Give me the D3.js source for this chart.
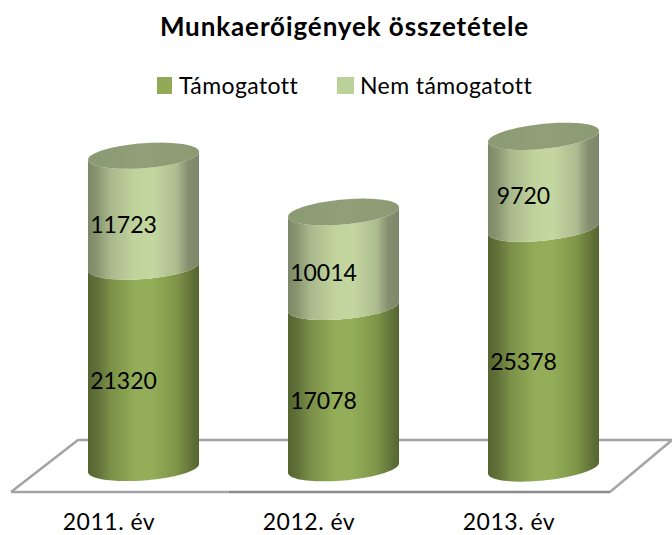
<!DOCTYPE html>
<html><head><meta charset="utf-8">
<script src="https://cdn.jsdelivr.net/npm/d3@7/dist/d3.min.js"></script>
<style>html,body{margin:0;padding:0;background:#fff;overflow:hidden}svg{display:block}text{font-family:Lato,sans-serif;fill:#000}</style>
</head><body><svg id="c" width="672" height="535"></svg>
<script>
const categories = ["2011. év","2012. év","2013. év"];
const supported = [21320,17078,25378];
const unsupported = [11723,10014,9720];
const seriesNames = ["Támogatott","Nem támogatott"];
const chartTitle = "Munkaerőigények összetétele";

const W=672,H=535,halfW=55.5,ry=12.5;
const svg=d3.select("#c").attr("viewBox",`0 0 ${W} ${H}`);
const x=d3.scalePoint().domain(categories).range([43.5,643.5]).padding(0.5);
const y=d3.scaleLinear().domain([0,35000]).range([468,137.25]);
const tilt=d3.scaleLinear().domain([143.5,543.5]).range([-4,-5.5]);

const defs=svg.append("defs");
function grad(id,stops){
  const g=defs.append("linearGradient").attr("id",id).attr("x1",0).attr("x2",1).attr("y1",0).attr("y2",0);
  stops.forEach(([o,c])=>g.append("stop").attr("offset",o).attr("stop-color",c));
}
grad("gD",[[0,"#56652f"],[.08,"#5f7038"],[.2,"#7a8f48"],[.42,"#92ac57"],[.58,"#93ad58"],[.8,"#7f9549"],[.92,"#64763a"],[1,"#566530"]]);
grad("gL",[[0,"#7c8868"],[.08,"#88956f"],[.2,"#a8b88c"],[.42,"#c1d39c"],[.58,"#c5d7a1"],[.8,"#acbc8f"],[.9,"#868f70"],[1,"#7d8769"]]);
grad("gT",[[0,"#8a9a72"],[.5,"#909f78"],[1,"#8b9a73"]]);

// floor
const floor=svg.append("g").attr("fill","none");
const ln=d3.line();
floor.append("path").attr("d",ln([[11,492],[78,440],[672,440]])).attr("stroke","#a3a3a3").attr("stroke-width",2.5);
floor.append("path").attr("d",ln([[610,492],[672,440]])).attr("stroke","#a6a6a6").attr("stroke-width",2.5);
floor.append("path").attr("d",ln([[11,492],[229,492]])).attr("stroke","#a3a3a3").attr("stroke-width",2.5);
floor.append("path").attr("d",ln([[229,492],[610,492]])).attr("stroke","#8a8a8a").attr("stroke-width",2.5);

const T=d3.range(0,1.0001,1/48);
function arcPts(cx,cy,s,rev){
  const p=T.map(t=>{const a=Math.PI*(1-t);return [cx+halfW*Math.cos(a),cy+ry*Math.sin(a)+s*Math.cos(a)];});
  return rev?p.reverse():p;
}
function backPts(cx,cy,s){
  return T.map(t=>{const a=Math.PI*t;return [cx+halfW*Math.cos(a),cy-ry*Math.sin(a)+s*Math.cos(a)];});
}
const closed=d3.line().curve(d3.curveLinearClosed);

const bars=svg.append("g").selectAll("g").data(categories).join("g");
bars.each(function(c,i){
  const g=d3.select(this),cx=x(c),s=tilt(cx);
  const y0=y(0),y1=y(supported[i]),y2=y(supported[i]+unsupported[i]);
  g.append("path").attr("d",closed([...arcPts(cx,y0,s),...arcPts(cx,y1,s,true)])).attr("fill","url(#gD)");
  g.append("path").attr("d",closed([...arcPts(cx,y1,s),...arcPts(cx,y2,s,true)])).attr("fill","url(#gL)");
  g.append("path").attr("d",closed([...arcPts(cx,y2,s),...backPts(cx,y2,s)])).attr("fill","url(#gT)");
  g.append("text").attr("x",cx-20).attr("y",(y0+y1)/2+22).attr("text-anchor","middle")
    .attr("font-size",23).text(supported[i]);
  g.append("text").attr("x",cx-20).attr("y",(y1+y2)/2+22).attr("text-anchor","middle")
    .attr("font-size",23).text(unsupported[i]);
});

// category axis
const axis=svg.append("g").attr("transform","translate(-35,513)").call(d3.axisBottom(x).tickSize(0).tickPadding(0));
axis.select(".domain").remove();
axis.selectAll("text").attr("font-size",23).attr("letter-spacing",.5).attr("font-family","Lato,sans-serif").attr("fill","#000").attr("dy",0).attr("y",17);

// title
svg.append("text").attr("x",344.5).attr("y",36).attr("text-anchor","middle")
  .attr("font-size",26).attr("letter-spacing",.9).attr("font-weight",700).text(chartTitle);

// legend
const legend=svg.append("g");
const lx=[157,337],tx=[179,360],lc=["#92a957","#bcd09a"];
seriesNames.forEach((n,i)=>{
  legend.append("rect").attr("x",lx[i]).attr("y",77).attr("width",i?17:15).attr("height",17).attr("fill",lc[i]);
  legend.append("text").attr("x",tx[i]).attr("y",94).attr("font-size",23).attr("letter-spacing",.4).text(n);
});
</script></body></html>
